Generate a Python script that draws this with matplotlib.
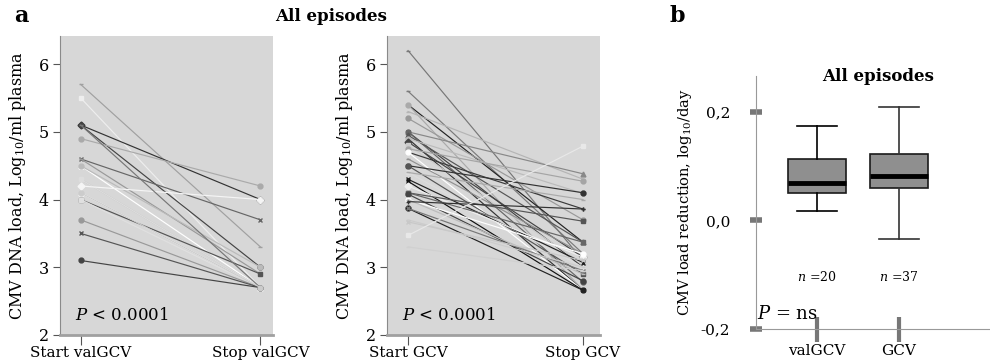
import numpy as np
import matplotlib
matplotlib.use("Agg")
from matplotlib import pyplot as plt

plt.rcParams['font.family'] = ['DejaVu Serif']
plt.rcParams['mathtext.fontset'] = 'dejavuserif'

# panel a, left: valGCV episodes (Log10 copies/ml)
va_start = [5.7, 5.5, 5.1, 5.1, 4.9, 4.6, 4.6, 4.5, 4.5, 4.3, 4.3, 4.2, 4.1, 4.0, 4.0, 3.7, 3.5, 3.1, 5.1, 4.1]
va_stop = [3.3, 2.7, 4.0, 3.0, 4.2, 3.7, 2.9, 2.7, 3.0, 2.7, 2.7, 4.0, 2.7, 2.9, 2.7, 2.7, 2.7, 2.7, 2.7, 2.7]

# panel a, right: GCV episodes
gc_start = [6.2, 5.6, 5.4, 5.4, 5.3, 5.2, 5.0, 5.0, 5.0, 4.95, 4.9, 4.9, 4.85, 4.8, 4.75, 4.7, 4.7, 4.6, 4.5,
            4.5, 4.4, 4.4, 4.3, 4.27, 4.2, 4.1, 4.1, 4.08, 4.0, 4.0, 3.97, 3.87, 3.87, 3.7, 3.67, 3.47, 3.3]
gc_stop = [3.1, 3.2, 3.37, 2.66, 4.3, 3.7, 4.38, 3.0, 2.78, 3.37, 2.66, 4.09, 3.15, 3.05, 4.27, 3.86, 2.66, 3.2,
           4.1, 2.9, 3.0, 4.0, 3.07, 2.66, 3.15, 3.68, 3.37, 2.8, 3.2, 2.9, 3.86, 2.66, 2.95, 3.0, 3.1, 4.79, 2.95]

# panel b: load reduction, log10/day
groups = ['valGCV', 'GCV']
n_eps = [20, 37]
box_lo = [0.017, -0.034]
box_q1 = [0.051, 0.059]
box_med = [0.068, 0.081]
box_q3 = [0.114, 0.123]
box_hi = [0.174, 0.208]

va_col = ['#a0a0a0', '#eeeeee', '#333333', '#444444', '#aaaaaa', '#666666', '#999999', '#ffffff', '#bbbbbb',
          '#c0c0c0', '#dddddd', '#f5f5f5', '#ffffff', '#555555', '#e0e0e0', '#999999', '#555555', '#444444',
          '#777777', '#cccccc']
va_mk = ['_', 's', 'D', 'o', 'o', 'x', '_', '^', 'o', 'x', 's', 'D', '^', 's', 's', 'o', 'x', 'o', '_', 'o']

gc_col = ['#777777', '#7a7a7a', '#222222', '#aaaaaa', '#b5b5b5', '#999999', '#888888', '#444444', '#666666',
          '#555555', '#333333', '#bbbbbb', '#444444', '#cccccc', '#a5a5a5', '#3a3a3a', '#ffffff', '#909090',
          '#333333', '#555555', '#dddddd', '#aaaaaa', '#222222', '#111111', '#eeeeee', '#555555', '#666666',
          '#444444', '#ffffff', '#bbbbbb', '#333333', '#222222', '#777777', '#cccccc', '#c8c8c8', '#e8e8e8',
          '#d0d0d0']
gc_mk = ['_', '_', '_', 'o', '_', 'o', '^', 'x', 'o', '^', 'x', 'o', 'D', 's', 'o', '+', 'o', '_', 'o', 's',
         's', '_', 'x', 'x', 'D', 's', 's', 'o', 'o', '_', '+', 'o', 'x', '_', 'x', 's', '_']

bg = '#d7d7d7'
spc = '#8a8a8a'

fig = plt.figure(figsize=(9.9, 3.64), dpi=100)
ax1 = fig.add_axes([0.0606, 0.0797, 0.2152, 0.8214])
ax2 = fig.add_axes([0.3909, 0.0797, 0.2152, 0.8214])
ax3 = fig.add_axes([0.7636, 0.0962, 0.2364, 0.695])


def pairs(ax, start, stop, cols, mks, labels):
    for s, e, c, m in zip(start, stop, cols, mks):
        ax.plot([0, 1], [s, e], color=c, lw=0.85, marker=m, ms=3.5, mew=1.0, mec=c, mfc=c)
    ax.set_facecolor(bg)
    ax.set_xlim(-0.115, 1.07)
    ax.set_ylim(2, 6.415)
    ax.set_yticks([2, 3, 4, 5, 6])
    ax.set_xticks([0, 1])
    ax.set_xticklabels(labels, fontsize=11)
    for sp in ['top', 'right']:
        ax.spines[sp].set_visible(False)
    ax.spines['left'].set_color(spc)
    ax.spines['bottom'].set_color('#a0a0a0')
    ax.spines['bottom'].set_linewidth(2)
    ax.tick_params(axis='y', colors='#555555', labelcolor='black', labelsize=11.5, length=5, pad=3)
    ax.tick_params(axis='x', colors='#555555', labelcolor='black', length=7, pad=1)
    ax.set_ylabel('CMV DNA load, Log$_{10}$/ml plasma', fontsize=11.5, labelpad=8)
    ax.text(0.07, 0.05, '$P$ < 0.0001', transform=ax.transAxes, fontsize=12)


pairs(ax1, va_start, va_stop, va_col, va_mk, ['Start valGCV', 'Stop valGCV'])
pairs(ax2, gc_start, gc_stop, gc_col, gc_mk, ['Start GCV', 'Stop GCV'])
ax2.set_xlim(-0.12, 1.097)

stats = []
for i in range(2):
    stats.append(dict(whislo=box_lo[i], q1=box_q1[i], med=box_med[i], q3=box_q3[i], whishi=box_hi[i],
                      label=groups[i]))
pos = [1, 2]
bp = ax3.bxp(stats, positions=pos, widths=0.71, patch_artist=True, showfliers=False, capwidths=0.49,
             boxprops=dict(facecolor='#8f8f8f', edgecolor='#1a1a1a', lw=1.2),
             medianprops=dict(color='black', lw=3.5),
             whiskerprops=dict(lw=1.2), capprops=dict(lw=1.2))
for k, c in enumerate(['black', '#333333']):
    for w in bp['whiskers'][2 * k:2 * k + 2]:
        w.set_color(c)
    for cp in bp['caps'][2 * k:2 * k + 2]:
        cp.set_color(c)
ax3.set_xlim(0.256, 3.11)
ax3.set_ylim(-0.2, 0.266)
ax3.set_yticks([-0.2, 0.0, 0.2])
ax3.set_yticklabels(['-0,2', '0,0', '0,2'])
ax3.set_xticks(pos)
ax3.set_xticklabels(groups, fontsize=11)
for sp in ['top', 'right']:
    ax3.spines[sp].set_visible(False)
ax3.spines['left'].set_color('#999999')
ax3.spines['bottom'].set_color('#999999')
ax3.tick_params(axis='y', direction='inout', length=9, width=4, colors='#777777', labelcolor='black',
                labelsize=11, pad=14)
ax3.tick_params(axis='x', direction='inout', length=18, width=3, colors='#777777', labelcolor='black', pad=2)
ax3.set_ylabel('CMV load reduction, log$_{10}$/day', fontsize=10.5, labelpad=5)
for p, n in zip(pos, n_eps):
    ax3.text(p, -0.105, '$n$ =%d' % n, ha='center', va='center', fontsize=9)
ax3.text(0.005, 0.04, '$P$ = ns', transform=ax3.transAxes, fontsize=13)
ax3.text(0.52, 1.0, 'All episodes', transform=ax3.transAxes, ha='center', va='center',
         fontsize=12, fontweight='bold')

fig.text(0.334, 0.956, 'All episodes', ha='center', va='center', fontsize=12, fontweight='bold')
fig.text(0.022, 0.956, 'a', ha='center', va='center', fontsize=16, fontweight='bold')
fig.text(0.684, 0.956, 'b', ha='center', va='center', fontsize=16, fontweight='bold')

fig.savefig('out.png', dpi=100)
